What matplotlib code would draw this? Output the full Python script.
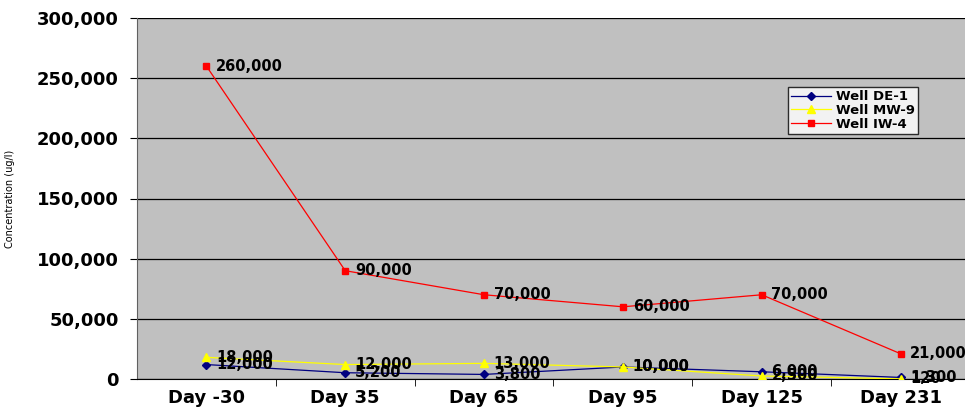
import matplotlib

matplotlib.use("Agg")
import matplotlib.pyplot as plt
from matplotlib.ticker import FuncFormatter

plt.rcParams["font.family"] = ["DejaVu Sans"]

days = ["Day -30", "Day 35", "Day 65", "Day 95", "Day 125", "Day 231"]
well_de1 = [12000, 5200, 3800, 10000, 6000, 1300]
well_mw9 = [18000, 12000, 13000, 10000, 2500, 120]
well_iw4 = [260000, 90000, 70000, 60000, 70000, 21000]

fig = plt.figure(figsize=(9.65, 4.08), dpi=100)
ax = fig.add_axes([137 / 965, 29 / 408, 833 / 965, 361 / 408])
ax.set_facecolor("#c0c0c0")

x = list(range(len(days)))
series = [
    ("Well DE-1", well_de1, "#000080", "D", 4),
    ("Well MW-9", well_mw9, "#ffff00", "^", 6),
    ("Well IW-4", well_iw4, "#ff0000", "s", 5),
]
for name, vals, color, marker, ms in series:
    ax.plot(x, vals, color=color, linewidth=0.9, marker=marker,
            markersize=ms, label=name, zorder=3)
    for xi, v in zip(x, vals):
        ax.annotate(f"{v:,}", (xi, v), xytext=(7, 0), textcoords="offset points",
                    va="center", ha="left", fontsize=10.5, fontweight="bold",
                    zorder=4)

ax.set_xlim(-0.5, len(days) - 0.5)
ax.set_ylim(0, 300000)
ax.set_yticks(range(0, 300001, 50000))
ax.yaxis.set_major_formatter(FuncFormatter(lambda v, _: f"{int(v):,}"))
ax.grid(True, axis="y", color="black", linewidth=0.9)
ax.set_axisbelow(True)

ax.set_xticks(x)
ax.set_xticklabels(days, fontsize=13, fontweight="bold")
ax.set_xticks([i + 0.5 for i in x[:-1]], minor=True)
ax.tick_params(axis="x", which="major", length=0, pad=7)
ax.tick_params(axis="x", which="minor", length=5, direction="out")
ax.tick_params(axis="y", length=5, direction="out", labelsize=13, pad=8)
for lab in ax.get_yticklabels():
    lab.set_fontweight("bold")

for side in ("top", "right"):
    ax.spines[side].set_visible(False)
ax.spines["left"].set_color("#606060")
ax.spines["bottom"].set_color("black")

ax.set_ylabel("Concentration (ug/l)", fontsize=7)
ax.yaxis.set_label_coords(-0.147, 0.5)

leg = ax.legend(loc="upper left", bbox_to_anchor=(651 / 833, (379 - 87) / 361),
                fontsize=9.5, frameon=True, fancybox=False, borderpad=0.25,
                labelspacing=0.05, handlelength=3.0, handletextpad=0.4,
                borderaxespad=0)
leg.get_frame().set_edgecolor("black")
leg.get_frame().set_facecolor("white")
for t in leg.get_texts():
    t.set_fontweight("bold")

fig.savefig("out.png", dpi=100)
